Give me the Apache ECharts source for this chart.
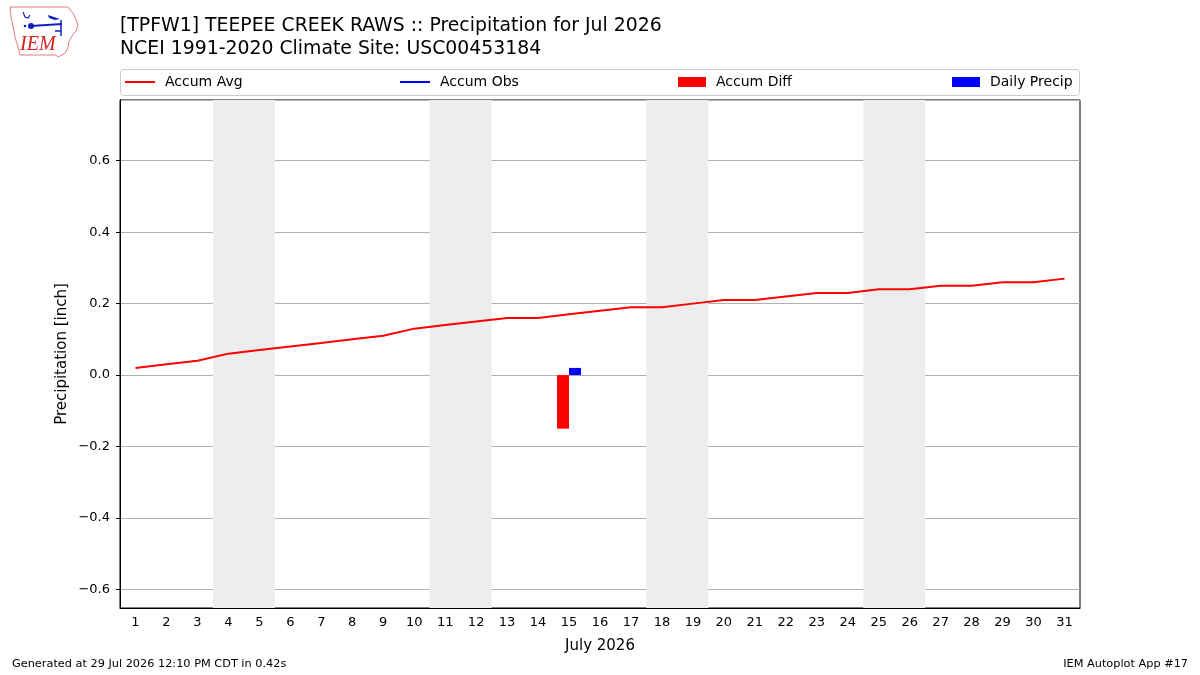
<!DOCTYPE html>
<html>
<head>
<meta charset="utf-8">
<script src="https://cdn.jsdelivr.net/npm/echarts@6/dist/echarts.min.js"></script>
<style>
  html, body { margin: 0; padding: 0; background: #fff; }
  #chart { width: 1200px; height: 675px; }
</style>
</head>
<body>
<div id="chart"></div>
<script>
// days of July 2026
const days = Array.from({ length: 31 }, (_, i) => String(i + 1))

// climatology accumulated average (inch)
const accumAvg = [0.02, 0.03, 0.04, 0.06, 0.07, 0.08, 0.09, 0.10, 0.11, 0.13,
  0.14, 0.15, 0.16, 0.16, 0.17, 0.18, 0.19, 0.19, 0.20, 0.21,
  0.21, 0.22, 0.23, 0.23, 0.24, 0.24, 0.25, 0.25, 0.26, 0.26, 0.27]

// observed accumulation (only one day reported)
const accumObs = days.map(d => (d === '15' ? 0.02 : null))
const accumDiff = days.map(d => (d === '15' ? -0.15 : null))
const dailyPrecip = days.map(d => (d === '15' ? 0.02 : null))

// weekends (Sat-Sun) shaded
const weekends = [[4, 5], [11, 12], [18, 19], [25, 26]]

const FONT = 'DejaVu Sans'
const chart = echarts.init(document.getElementById('chart'))

const fmtMinus = v => v.toFixed(1).replace('-', '\u2212')

const legendBase = {
  top: 75,
  itemGap: 10,
  padding: 0,
  textStyle: { fontFamily: FONT, fontSize: 14, color: '#000', padding: [0, 0, 0, 5] },
  selectedMode: false
}
const lineLegend = { icon: 'rect', itemWidth: 30, itemHeight: 2 }
const barLegend = { icon: 'rect', itemWidth: 28, itemHeight: 10 }

const option = {
  animation: false,
  backgroundColor: '#fff',
  title: {
    text: '[TPFW1] TEEPEE CREEK RAWS :: Precipitation for Jul 2026\nNCEI 1991-2020 Climate Site: USC00453184',
    left: 120,
    top: 15,
    padding: 0,
    textStyle: { fontFamily: FONT, fontSize: 18.85, fontWeight: 'normal', color: '#000', lineHeight: 23 }
  },
  legend: [
    Object.assign({}, legendBase, lineLegend, { left: 125, data: ['Accum Avg'] }),
    Object.assign({}, legendBase, lineLegend, { left: 400, data: ['Accum Obs'] }),
    Object.assign({}, legendBase, barLegend, { left: 678, data: ['Accum Diff'] }),
    Object.assign({}, legendBase, barLegend, { left: 952, data: ['Daily Precip'] })
  ],
  grid: {
    left: 120, right: 120, top: 100, bottom: 67,
    show: true, borderColor: '#000', borderWidth: 1, backgroundColor: 'transparent'
  },
  xAxis: [
    {
      type: 'category',
      data: days,
      boundaryGap: true,
      name: 'July 2026',
      nameLocation: 'middle',
      nameGap: 31,
      nameTextStyle: { fontFamily: FONT, fontSize: 15, color: '#000' },
      axisLine: { onZero: false, lineStyle: { color: '#000' } },
      axisTick: { alignWithLabel: true, length: 4, lineStyle: { color: '#000' } },
      axisLabel: { fontFamily: FONT, fontSize: 13, color: '#000', margin: 8, interval: 0 },
      splitLine: { show: false }
    },
    {
      type: 'value',
      min: 0.5,
      max: 31.5,
      show: false
    }
  ],
  yAxis: {
    type: 'value',
    min: -0.652,
    max: 0.77,
    splitNumber: 7,
    name: 'Precipitation [inch]',
    nameLocation: 'middle',
    nameMoveOverlap: false,
    nameGap: 50,
    nameTextStyle: { fontFamily: FONT, fontSize: 15, color: '#000' },
    axisLine: { show: true, lineStyle: { color: '#000' } },
    axisTick: { show: true, length: 4, lineStyle: { color: '#000' } },
    axisLabel: {
      fontFamily: FONT, fontSize: 13, color: '#000', margin: 10,
      showMinLabel: false, showMaxLabel: false,
      formatter: fmtMinus
    },
    splitLine: { lineStyle: { color: '#b0b0b0', width: 1 } }
  },
  series: [
    {
      name: 'weekends',
      type: 'line',
      xAxisIndex: 1,
      data: [],
      z: -1,
      silent: true,
      markArea: {
        silent: true,
        itemStyle: { color: '#ededed' },
        data: weekends.map(w => [{ xAxis: w[0] - 0.5 }, { xAxis: w[1] + 0.5 }])
      }
    },
    {
      name: 'Accum Avg',
      type: 'line',
      data: accumAvg,
      symbol: 'none',
      lineStyle: { color: '#ff0000', width: 2 },
      itemStyle: { color: '#ff0000' },
      z: 3
    },
    {
      name: 'Accum Obs',
      type: 'line',
      data: accumObs,
      symbol: 'none',
      lineStyle: { color: '#0000ff', width: 2 },
      itemStyle: { color: '#0000ff' },
      z: 3
    },
    {
      name: 'Accum Diff',
      type: 'bar',
      data: accumDiff,
      barWidth: 12,
      barGap: '0%',
      itemStyle: { color: '#ff0000' }
    },
    {
      name: 'Daily Precip',
      type: 'bar',
      data: dailyPrecip,
      barWidth: 12,
      barGap: '0%',
      itemStyle: { color: '#0000ff' }
    }
  ],
  graphic: [
    // legend frame
    {
      type: 'rect',
      shape: { x: 120.5, y: 69.5, width: 959, height: 26, r: 3 },
      style: { fill: 'none', stroke: '#cccccc', lineWidth: 1 },
      z: -5
    },
    // IEM logo (approximation)
    {
      type: 'group',
      x: 0,
      y: 0,
      children: [
        {
          type: 'polyline',
          shape: {
            points: [[10, 7], [68, 7], [70, 10], [73, 13], [76, 19], [78, 26], [76, 31],
              [72, 36], [69, 41], [68, 47], [66, 52], [62, 55], [58, 57], [56, 55],
              [20, 55], [18, 47], [15, 37], [13, 26], [11, 17], [10, 7]]
          },
          style: { fill: 'none', stroke: '#e47a7a', lineWidth: 1 }
        },
        {
          type: 'line',
          shape: { x1: 31, y1: 26, x2: 62, y2: 24 },
          style: { stroke: '#1020c0', lineWidth: 2 }
        },
        {
          type: 'circle',
          shape: { cx: 31, cy: 26, r: 3 },
          style: { fill: '#1020c0' }
        },
        {
          type: 'circle',
          shape: { cx: 25, cy: 26, r: 1.3 },
          style: { fill: '#1020c0' }
        },
        {
          type: 'line',
          shape: { x1: 61, y1: 20, x2: 61, y2: 36 },
          style: { stroke: '#1020c0', lineWidth: 1.5 }
        },
        {
          type: 'line',
          shape: { x1: 55, y1: 31, x2: 61, y2: 31 },
          style: { stroke: '#1020c0', lineWidth: 1.5 }
        },
        {
          type: 'polygon',
          shape: { points: [[48, 15], [54, 17], [60, 19], [55, 20], [49, 18]] },
          style: { fill: '#1020c0' }
        },
        {
          type: 'polyline',
          shape: { points: [[23, 12], [25, 17], [28, 18], [30, 15]] },
          style: { stroke: '#1020c0', fill: 'none', lineWidth: 1.2 }
        },
        {
          type: 'text',
          style: {
            x: 20, y: 35, text: 'IEM',
            font: 'italic 20px "Liberation Serif", serif',
            fill: '#d42020'
          }
        }
      ]
    },
    // footer
    {
      type: 'text',
      left: 12,
      top: 659,
      style: { text: 'Generated at 29 Jul 2026 12:10 PM CDT in 0.42s', font: '11.3px "DejaVu Sans"', fill: '#000' }
    },
    {
      type: 'text',
      right: 12,
      top: 659,
      style: { text: 'IEM Autoplot App #17', font: '11.3px "DejaVu Sans"', fill: '#000' }
    }
  ]
}

chart.setOption(option)
</script>
</body>
</html>
